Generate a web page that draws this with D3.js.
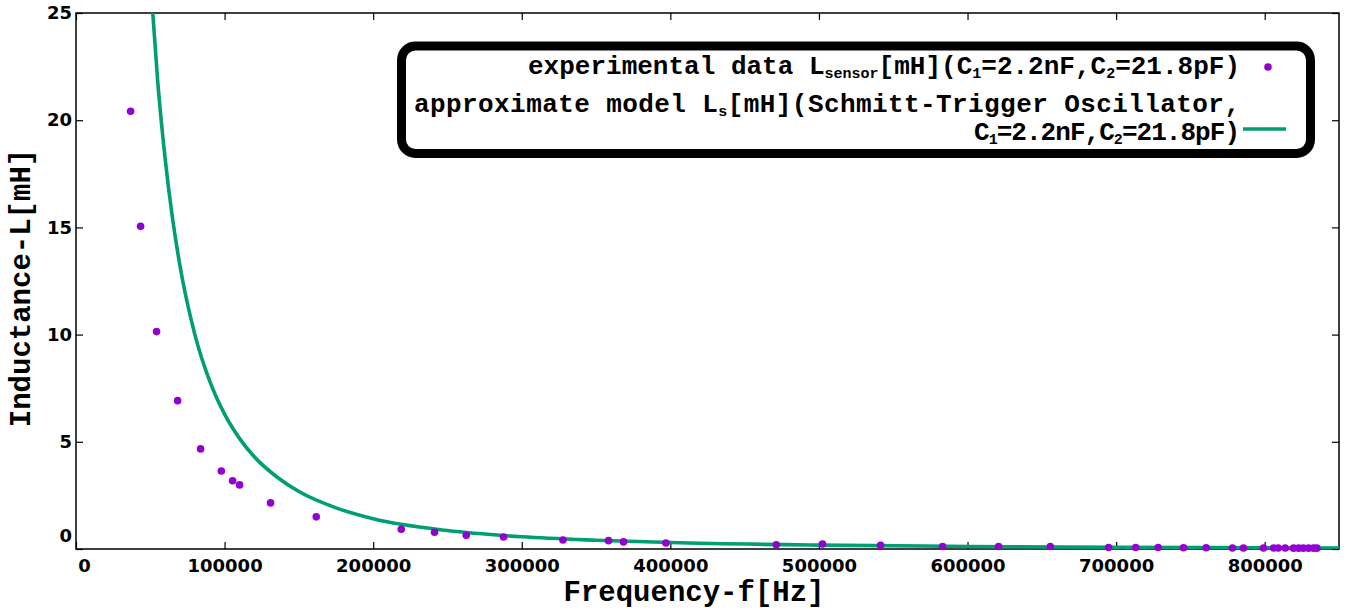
<!DOCTYPE html>
<html><head><meta charset="utf-8">
<script src="https://cdn.jsdelivr.net/npm/d3@7"></script>
<style>body{margin:0;background:#fff}svg{display:block}</style>
</head><body>
<svg id="chart" width="1360" height="610"></svg>
<script>
// experimental data: frequency [Hz] and inductance [mH]
const expFreq = [36750, 43470, 54240, 68400, 83850, 97800, 105400, 110100, 130950, 161700,
  218900, 241300, 262650, 287750, 327700, 358400, 368500, 397000, 471300, 502400,
  541500, 583200, 620900, 655700, 694900, 713200, 728300, 745400, 760600, 778300,
  785700, 799200, 806000, 809100, 813800, 819400, 822800, 826000, 829500, 832900, 835100];
const expL = [20.42, 15.05, 10.14, 6.92, 4.67, 3.64, 3.18, 2.99, 2.15, 1.50,
  0.92, 0.78, 0.64, 0.56, 0.42, 0.39, 0.33, 0.28, 0.20, 0.23,
  0.17, 0.12, 0.12, 0.12, 0.07, 0.07, 0.07, 0.06, 0.06, 0.05,
  0.05, 0.05, 0.05, 0.05, 0.05, 0.04, 0.04, 0.04, 0.04, 0.04, 0.04];
// approximate model curve
const modelFreq = [50000, 55000, 60000, 65000, 70000, 80000, 90000, 100000, 110000, 120000,
  135000, 150000, 175000, 200000, 250000, 300000, 350000, 400000, 500000, 600000, 700000, 850000];
const modelL = [26.6, 21.8, 18.2, 15.4, 13.2, 10.0, 7.83, 6.29, 5.16, 4.30,
  3.37, 2.68, 1.92, 1.41, 0.86, 0.57, 0.41, 0.30, 0.18, 0.12, 0.08, 0.05];

const xTicks = [0, 100000, 200000, 300000, 400000, 500000, 600000, 700000, 800000];
const yTicks = [0, 5, 10, 15, 20, 25];
const xDomain = [0, 850000];
const yDomain = [0, 25];
const xTitle = "Frequency-f[Hz]";
const yTitle = "Inductance-L[mH]";
// legend rows: [text, isSubscript] pieces
const legendRow1 = [["experimental data L", 0], ["sensor", 1], ["[mH](C", 0], ["1", 1], ["=2.2nF,C", 0], ["2", 1], ["=21.8pF)", 0]];
const legendRow2 = [["approximate model L", 0], ["s", 1], ["[mH](Schmitt-Trigger Oscillator,", 0]];
const legendRow3 = [["C", 0], ["1", 1], ["=2.2nF,C", 0], ["2", 1], ["=21.8pF)", 0]];

const colExp = "#9400d3", colModel = "#009e73";
const M = {left: 76, right: 1339, top: 13, bottom: 549};
const svg = d3.select("#chart");
const x = d3.scaleLinear().domain(xDomain).range([M.left, M.right]);
const y = d3.scaleLinear().domain(yDomain).range([M.bottom, M.top]);

const tickFont = "'DejaVu Sans', sans-serif";
const monoFont = "'Liberation Mono', 'Courier New', monospace";

svg.append("defs").append("clipPath").attr("id", "clip")
  .append("rect").attr("x", M.left).attr("y", M.top)
  .attr("width", M.right - M.left).attr("height", M.bottom - M.top);

function styleAxis(g) {
  g.select(".domain").remove();
  g.selectAll(".tick line").attr("stroke", "#000").attr("stroke-width", 1.2);
  g.selectAll(".tick text").attr("fill", "#000").style("font-family", tickFont)
    .style("font-weight", "bold").style("font-size", "18px");
}
const gx = svg.append("g").attr("transform", `translate(0,${M.bottom})`)
  .call(d3.axisBottom(x).tickValues(xTicks).tickFormat(d3.format("d")).tickSize(-7).tickPadding(10));
styleAxis(gx);
gx.selectAll(".tick text").filter(d => d === 0).attr("transform", "translate(8,0)");
const gxt = svg.append("g").attr("transform", `translate(0,${M.top})`)
  .call(d3.axisTop(x).tickValues(xTicks).tickFormat("").tickSize(-7));
styleAxis(gxt);
const gy = svg.append("g").attr("transform", `translate(${M.left},0)`)
  .call(d3.axisLeft(y).tickValues(yTicks).tickFormat(d3.format("d")).tickSize(-7).tickPadding(4));
styleAxis(gy);
gy.selectAll(".tick text").filter(d => d === 0).attr("transform", "translate(0,-13)");
const gyr = svg.append("g").attr("transform", `translate(${M.right},0)`)
  .call(d3.axisRight(y).tickValues(yTicks).tickFormat("").tickSize(-7));
styleAxis(gyr);

svg.append("rect").attr("x", M.left).attr("y", M.top)
  .attr("width", M.right - M.left).attr("height", M.bottom - M.top)
  .attr("fill", "none").attr("stroke", "#000").attr("stroke-width", 1.5);

const modelData = modelFreq.map((f, i) => [f, modelL[i]]);
svg.append("path").datum(modelData).attr("clip-path", "url(#clip)")
  .attr("fill", "none").attr("stroke", colModel).attr("stroke-width", 3.6)
  .attr("d", d3.line().x(d => x(d[0])).y(d => y(d[1])).curve(d3.curveMonotoneX));

const expData = expFreq.map((f, i) => [f, expL[i]]);
svg.append("g").selectAll("circle").data(expData).join("circle")
  .attr("cx", d => x(d[0])).attr("cy", d => y(d[1])).attr("r", 3.8).attr("fill", colExp);

svg.append("text").attr("x", 694).attr("y", 601).attr("text-anchor", "middle")
  .style("font-family", monoFont).style("font-weight", "bold").style("font-size", "29px")
  .text(xTitle);
svg.append("text").attr("transform", "translate(30,288) rotate(-90)").attr("text-anchor", "middle")
  .style("font-family", monoFont).style("font-weight", "bold").style("font-size", "29px")
  .text(yTitle);

// legend
const lg = svg.append("g");
lg.append("rect").attr("x", 401.5).attr("y", 46).attr("width", 909).attr("height", 107.5)
  .attr("rx", 14).attr("ry", 14).attr("fill", "#fff").attr("stroke", "#000").attr("stroke-width", 9);
function legendText(row, yy, len) {
  const t = lg.append("text").attr("x", 1240).attr("y", yy).attr("text-anchor", "end")
    .attr("textLength", len).attr("lengthAdjust", "spacing")
    .style("font-family", monoFont).style("font-weight", "bold").style("font-size", "26px");
  let shift = 0;
  row.forEach(([s, sub]) => {
    const ts = t.append("tspan").text(s);
    if (sub) {
      ts.style("font-size", "15px");
      if (shift === 0) { ts.attr("dy", 4); shift = 4; }
    } else if (shift !== 0) { ts.attr("dy", -shift); shift = 0; }
  });
}
legendText(legendRow1, 74, 712);
legendText(legendRow2, 112, 826);
legendText(legendRow3, 140, 266);
lg.append("circle").attr("cx", 1268).attr("cy", 67).attr("r", 3.8).attr("fill", colExp);
lg.append("line").attr("x1", 1243).attr("x2", 1286).attr("y1", 129).attr("y2", 129)
  .attr("stroke", colModel).attr("stroke-width", 3.6);
</script>
</body></html>
